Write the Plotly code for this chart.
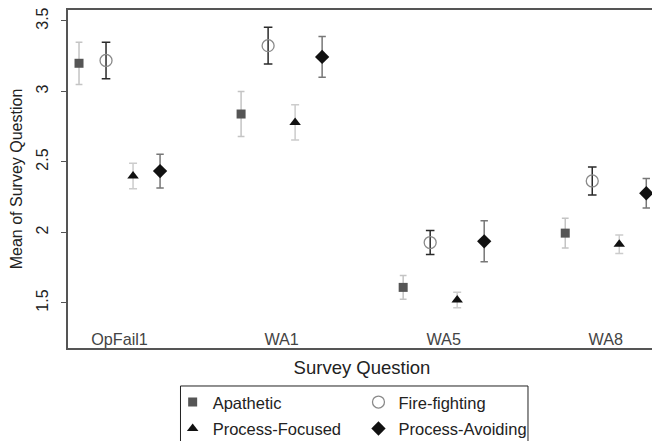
import plotly.graph_objects as go

questions = ["OpFail1", "WA1", "WA5", "WA8"]

apathetic = [3.20, 2.84, 1.61, 1.995]
apathetic_err = [0.15, 0.16, 0.085, 0.105]
firefighting = [3.22, 3.325, 1.928, 2.365]
firefighting_err = [0.13, 0.13, 0.085, 0.10]
process_focused = [2.40, 2.78, 1.52, 1.916]
process_focused_err = [0.09, 0.125, 0.055, 0.065]
process_avoiding = [2.435, 3.245, 1.937, 2.278]
process_avoiding_err = [0.12, 0.145, 0.145, 0.105]

series = [
    ("Apathetic", apathetic, apathetic_err, -1.5,
     dict(symbol="square", size=9, color="#555555"), "#c4c4c4", 3.4, "legend"),
    ("Process-Focused", process_focused, process_focused_err, 0.5,
     dict(symbol="triangle-up", size=10, color="#111111"), "#cccccc", 4, "legend"),
    ("Fire-fighting", firefighting, firefighting_err, -0.5,
     dict(symbol="circle-open", size=12, color="#8a8a8a", line=dict(width=1.3)), "#2a2a2a", 4.3, "legend2"),
    ("Process-Avoiding", process_avoiding, process_avoiding_err, 1.5,
     dict(symbol="diamond", size=11, color="#111111"), "#777777", 3.7, "legend2"),
]

fig = go.Figure()
for name, vals, errs, off, mk, ecol, ew, leg in series:
    xs = [i + off / 6.0 for i in range(len(questions))]
    fig.add_trace(go.Scatter(
        x=xs, y=vals, mode="markers", name=name, marker=mk, legend=leg, legendgroup=name,
        error_y=dict(type="data", array=errs, visible=True, color=ecol, thickness=1.5, width=ew),
    ))

font = "Liberation Sans, Arial, Helvetica, sans-serif"
legend_common = dict(
    orientation="v", yanchor="top", y=-0.109, xanchor="left",
    borderwidth=0, bgcolor="rgba(0,0,0,0)", font=dict(size=16.5, color="#222222"),
    tracegroupgap=2, itemclick=False, itemdoubleclick=False,
)
fig.update_layout(
    width=652, height=433,
    margin=dict(l=60, r=4, t=2, b=93, autoexpand=False),
    paper_bgcolor="white", plot_bgcolor="white",
    font=dict(family=font, size=16, color="#222222"),
    legend=dict(x=0.178, **legend_common),
    legend2=dict(x=0.494, **legend_common),
    shapes=[dict(type="rect", xref="paper", yref="paper", x0=0.1913, x1=0.7823,
                 y0=-0.1124, y1=-0.32, line=dict(color="#222222", width=1))],
    xaxis=dict(
        range=[-0.318, 3.31], tickmode="array", tickvals=list(range(len(questions))),
        ticktext=questions, ticklabelposition="inside", ticks="", showgrid=False,
        zeroline=False, showline=True, linecolor="#555555", linewidth=1.5, mirror=True,
        title=dict(text="Survey Question", standoff=14, font=dict(size=18.5)),
        tickfont=dict(size=16.2),
    ),
    yaxis=dict(
        range=[1.18, 3.578], tickmode="array", tickvals=[1.5, 2, 2.5, 3, 3.5],
        ticktext=["1.5", "2", "2.5", "3", "3.5"], ticks="outside", ticklen=5,
        tickcolor="#555555", tickwidth=1.3, tickangle=-90, ticklabelstandoff=7,
        ticklabeloverflow="allow", showgrid=False,
        zeroline=False, showline=True, linecolor="#555555", linewidth=1.5, mirror=True,
        title=dict(text="Mean of Survey Question", standoff=10, font=dict(size=16)),
        tickfont=dict(size=16),
    ),
)

fig.write_html("out.html")
